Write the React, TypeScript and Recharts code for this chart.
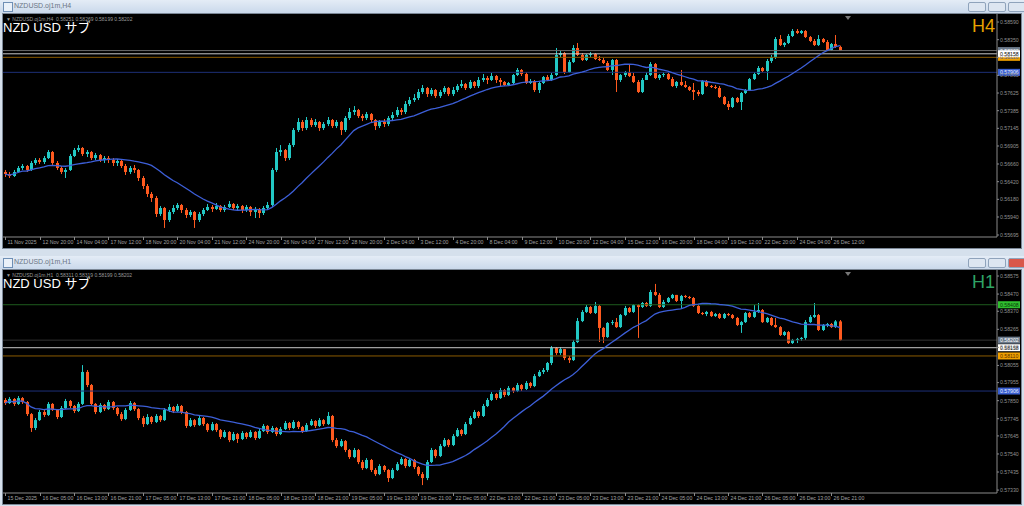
import React from 'react';
import { ComposedChart, Bar, Line, XAxis, YAxis, ReferenceLine } from 'recharts';

// H4 panel, prices in 1e-5 (open of each bar = previous close)
const H4_OPEN0 = 56552;
const H4_CLOSE = [
    56524, 56497, 56552, 56606, 56633, 56579, 56674, 56714, 56687, 56741,
    56823, 56674, 56606, 56552, 56579, 56769, 56850, 56878, 56796, 56823,
    56741, 56782, 56714, 56741, 56714, 56674, 56701, 56633, 56552, 56606,
    56579, 56470, 56361, 56253, 56198, 55981, 56062, 55899, 56008, 56062,
    56103, 56035, 55967, 56008, 55899, 55981, 56035, 56076, 56049, 56089,
    56035, 56076, 56117, 56062, 56089, 56035, 56076, 56008, 56049, 55994,
    56062, 56103, 56579, 56823, 56850, 56741, 56918, 57122, 57231, 57149,
    57258, 57190, 57231, 57149, 57204, 57258, 57176, 57231, 57122, 57285,
    57367, 57394, 57312, 57285, 57339, 57258, 57176, 57231, 57204, 57285,
    57326, 57394, 57367, 57476, 57530, 57557, 57639, 57693, 57611, 57666,
    57584, 57639, 57693, 57611, 57666, 57720, 57747, 57693, 57775, 57720,
    57802, 57829, 57802, 57856, 57802, 57775, 57734, 57761, 57870, 57938,
    57883, 57761, 57788, 57666, 57761, 57842, 57802, 57870, 58142, 58169,
    57910, 58046, 58237, 58142, 58074, 58142, 58155, 58087, 58074, 58033,
    57938, 58074, 57802, 57870, 57910, 57856, 57775, 57639, 57802, 57870,
    58019, 57829, 57870, 57883, 57815, 57720, 57775, 57734, 57707, 57666,
    57639, 57611, 57788, 57720, 57707, 57693, 57571, 57476, 57435, 57557,
    57503, 57625, 57666, 57815, 57883, 57965, 57924, 58060, 58114, 58359,
    58277, 58305, 58400, 58468, 58441, 58468, 58386, 58332, 58277, 58359,
    58318, 58210, 58291, 58251, 58202,
];
const H4_HIGH = [
    56579, 56552, 56579, 56633, 56660, 56647, 56701, 56741, 56741, 56769,
    56850, 56837, 56701, 56633, 56606, 56796, 56878, 56918, 56891, 56850,
    56837, 56810, 56796, 56769, 56769, 56741, 56728, 56714, 56660, 56633,
    56647, 56592, 56497, 56388, 56280, 56225, 56089, 56076, 56035, 56103,
    56130, 56117, 56062, 56035, 56021, 56008, 56062, 56117, 56103, 56130,
    56103, 56103, 56157, 56130, 56117, 56103, 56103, 56089, 56076, 56062,
    56089, 56144, 56606, 56878, 56918, 56864, 56945, 57149, 57285, 57258,
    57299, 57285, 57272, 57244, 57231, 57299, 57272, 57258, 57244, 57312,
    57421, 57448, 57408, 57339, 57367, 57353, 57272, 57258, 57272, 57312,
    57367, 57435, 57421, 57516, 57571, 57611, 57679, 57734, 57707, 57693,
    57679, 57666, 57720, 57707, 57707, 57747, 57802, 57761, 57802, 57788,
    57842, 57883, 57856, 57897, 57870, 57829, 57788, 57775, 57883, 57965,
    57951, 57910, 57815, 57802, 57775, 57856, 57870, 57897, 58237, 58196,
    58182, 58074, 58277, 58305, 58169, 58155, 58182, 58169, 58128, 58101,
    58060, 58087, 58087, 57883, 57924, 58006, 57897, 57802, 57829, 57910,
    58046, 58033, 57883, 57910, 57897, 57842, 57788, 57938, 57788, 57720,
    57761, 57666, 57802, 57802, 57734, 57734, 57720, 57584, 57516, 57571,
    57571, 57639, 57679, 57829, 57910, 57992, 57978, 58087, 58142, 58386,
    58413, 58318, 58427, 58495, 58495, 58481, 58481, 58400, 58359, 58413,
    58373, 58345, 58305, 58413, 58269,
];
const H4_LOW = [
    56484, 56470, 56484, 56538, 56579, 56552, 56565, 56647, 56660, 56660,
    56728, 56647, 56579, 56524, 56470, 56565, 56755, 56823, 56769, 56755,
    56714, 56714, 56687, 56674, 56674, 56633, 56633, 56606, 56511, 56524,
    56538, 56429, 56320, 56212, 56144, 55940, 55953, 55791, 55872, 55981,
    56035, 55994, 55926, 55940, 55791, 55872, 55953, 56021, 56008, 56035,
    56008, 56008, 56062, 56035, 56035, 55994, 56008, 55953, 55926, 55926,
    55967, 56035, 56076, 56552, 56769, 56701, 56714, 56891, 57095, 57109,
    57122, 57163, 57163, 57109, 57122, 57176, 57149, 57149, 57054, 57095,
    57258, 57326, 57285, 57244, 57258, 57231, 57122, 57149, 57163, 57176,
    57258, 57299, 57326, 57339, 57448, 57503, 57530, 57611, 57571, 57584,
    57557, 57557, 57611, 57584, 57584, 57639, 57693, 57666, 57679, 57693,
    57693, 57775, 57747, 57788, 57761, 57720, 57720, 57720, 57747, 57856,
    57856, 57747, 57747, 57639, 57625, 57747, 57788, 57788, 57856, 58114,
    57883, 57897, 58033, 58128, 58060, 58060, 58114, 58074, 58060, 58019,
    57924, 57870, 57639, 57775, 57842, 57842, 57761, 57625, 57625, 57802,
    57856, 57815, 57802, 57842, 57802, 57707, 57693, 57720, 57693, 57652,
    57530, 57584, 57598, 57707, 57693, 57679, 57557, 57462, 57394, 57421,
    57489, 57394, 57611, 57652, 57802, 57870, 57910, 57802, 58033, 58087,
    58264, 58250, 58291, 58386, 58427, 58427, 58373, 58318, 58264, 58264,
    58305, 58196, 58196, 58237, 58199,
];
const H4_LABELS = [
    '11 Nov 2025', '12 Nov 20:00', '14 Nov 04:00', '17 Nov 12:00', '18 Nov 20:00',
    '20 Nov 04:00', '21 Nov 12:00', '24 Nov 20:00', '26 Nov 04:00', '27 Nov 12:00',
    '28 Nov 20:00', '2 Dec 04:00', '3 Dec 12:00', '4 Dec 20:00', '8 Dec 04:00',
    '9 Dec 12:00', '10 Dec 20:00', '12 Dec 04:00', '15 Dec 12:00', '16 Dec 20:00',
    '18 Dec 04:00', '19 Dec 12:00', '22 Dec 20:00', '24 Dec 04:00', '26 Dec 12:00',
];
const H4_TICKS = [0.5859, 0.5835, 0.5811, 0.57865, 0.57625, 0.57385, 0.57145, 0.56905, 0.5666, 0.5642, 0.5618, 0.5594, 0.55695];

// H1 panel
const H1_OPEN0 = 57854;
const H1_CLOSE = [
    57836, 57860, 57831, 57865, 57842, 57772, 57691, 57737, 57784, 57767,
    57831, 57796, 57755, 57807, 57848, 57819, 57790, 57831, 58017, 57941,
    57831, 57784, 57825, 57801, 57842, 57807, 57772, 57743, 57796, 57836,
    57801, 57749, 57714, 57755, 57726, 57761, 57737, 57796, 57813, 57790,
    57819, 57784, 57703, 57737, 57708, 57749, 57714, 57679, 57714, 57679,
    57639, 57668, 57621, 57656, 57627, 57662, 57639, 57668, 57633, 57673,
    57703, 57668, 57691, 57656, 57685, 57720, 57691, 57726, 57697, 57673,
    57708, 57732, 57703, 57737, 57714, 57761, 57621, 57586, 57615, 57563,
    57522, 57563, 57493, 57458, 57505, 57447, 57423, 57470, 57447, 57400,
    57447, 57481, 57511, 57470, 57505, 57464, 57423, 57400, 57493, 57563,
    57528, 57586, 57621, 57592, 57644, 57679, 57656, 57714, 57749, 57784,
    57761, 57819, 57854, 57889, 57865, 57912, 57883, 57924, 57906, 57941,
    57918, 57953, 57935, 57993, 58017, 58028, 58069, 58156, 58127, 58150,
    58098, 58086, 58191, 58313, 58366, 58395, 58360, 58401, 58273, 58220,
    58302, 58307, 58278, 58348, 58389, 58366, 58406, 58395, 58418, 58401,
    58482, 58465, 58395, 58424, 58447, 58465, 58430, 58459, 58453, 58447,
    58401, 58360, 58354, 58366, 58342, 58354, 58331, 58354, 58348, 58331,
    58290, 58307, 58360, 58337, 58366, 58377, 58307, 58331, 58290, 58278,
    58232, 58249, 58185, 58203, 58209, 58215, 58307, 58337, 58348, 58261,
    58290, 58296, 58278, 58311, 58202,
];
const H1_HIGH = [
    57865, 57871, 57865, 57877, 57871, 57848, 57778, 57749, 57796, 57796,
    57842, 57836, 57801, 57819, 57860, 57854, 57825, 57842, 58057, 58028,
    57947, 57836, 57836, 57831, 57854, 57848, 57813, 57784, 57807, 57848,
    57842, 57807, 57761, 57772, 57761, 57772, 57767, 57807, 57831, 57819,
    57831, 57825, 57790, 57749, 57743, 57761, 57755, 57720, 57726, 57720,
    57685, 57679, 57673, 57668, 57662, 57673, 57668, 57679, 57673, 57685,
    57714, 57708, 57703, 57697, 57697, 57732, 57726, 57737, 57732, 57703,
    57720, 57743, 57737, 57749, 57743, 57784, 57767, 57633, 57627, 57621,
    57569, 57575, 57569, 57505, 57516, 57511, 57458, 57481, 57476, 57452,
    57458, 57493, 57522, 57516, 57516, 57511, 57470, 57435, 57505, 57575,
    57569, 57598, 57633, 57627, 57656, 57691, 57685, 57726, 57761, 57796,
    57790, 57831, 57865, 57900, 57895, 57924, 57918, 57935, 57929, 57953,
    57947, 57964, 57959, 58005, 58028, 58040, 58075, 58168, 58162, 58162,
    58150, 58110, 58203, 58331, 58377, 58406, 58401, 58424, 58406, 58278,
    58307, 58319, 58331, 58354, 58401, 58395, 58412, 58412, 58424, 58424,
    58494, 58529, 58476, 58436, 58453, 58471, 58465, 58465, 58465, 58459,
    58453, 58406, 58366, 58372, 58372, 58360, 58360, 58360, 58360, 58354,
    58337, 58313, 58366, 58366, 58406, 58418, 58383, 58337, 58337, 58331,
    58284, 58255, 58255, 58209, 58215, 58220, 58319, 58348, 58418, 58354,
    58296, 58302, 58302, 58319, 58319,
];
const H1_LOW = [
    57825, 57831, 57819, 57825, 57831, 57761, 57668, 57679, 57732, 57755,
    57761, 57790, 57743, 57749, 57801, 57807, 57778, 57784, 57825, 57929,
    57819, 57772, 57778, 57790, 57796, 57796, 57761, 57732, 57737, 57790,
    57790, 57737, 57697, 57708, 57714, 57720, 57726, 57732, 57784, 57778,
    57784, 57772, 57691, 57697, 57697, 57703, 57703, 57668, 57673, 57668,
    57627, 57633, 57609, 57615, 57604, 57621, 57627, 57633, 57621, 57627,
    57668, 57656, 57662, 57644, 57650, 57679, 57679, 57685, 57685, 57662,
    57668, 57703, 57691, 57697, 57703, 57708, 57609, 57575, 57580, 57551,
    57511, 57516, 57481, 57447, 57452, 57435, 57412, 57417, 57435, 57377,
    57394, 57441, 57476, 57458, 57464, 57452, 57412, 57359, 57388, 57487,
    57516, 57522, 57580, 57580, 57586, 57639, 57644, 57650, 57708, 57743,
    57749, 57755, 57813, 57848, 57854, 57860, 57871, 57877, 57895, 57900,
    57906, 57912, 57924, 57929, 57988, 58005, 58017, 58057, 58116, 58116,
    58086, 58069, 58081, 58185, 58307, 58360, 58354, 58354, 58191, 58185,
    58215, 58290, 58273, 58273, 58342, 58360, 58360, 58215, 58389, 58395,
    58395, 58459, 58389, 58389, 58418, 58441, 58424, 58389, 58447, 58441,
    58395, 58354, 58348, 58342, 58337, 58337, 58325, 58325, 58342, 58325,
    58284, 58244, 58302, 58331, 58331, 58360, 58302, 58302, 58284, 58273,
    58226, 58226, 58180, 58180, 58185, 58197, 58203, 58302, 58331, 58255,
    58255, 58278, 58273, 58273, 58199,
];
const H1_LABELS = [
    '15 Dec 2025', '16 Dec 05:00', '16 Dec 13:00', '16 Dec 21:00', '17 Dec 05:00',
    '17 Dec 13:00', '17 Dec 21:00', '18 Dec 05:00', '18 Dec 13:00', '18 Dec 21:00',
    '19 Dec 05:00', '19 Dec 13:00', '19 Dec 21:00', '22 Dec 05:00', '22 Dec 13:00',
    '22 Dec 21:00', '23 Dec 05:00', '23 Dec 13:00', '23 Dec 21:00', '24 Dec 05:00',
    '24 Dec 13:00', '24 Dec 21:00', '26 Dec 05:00', '26 Dec 13:00', '26 Dec 21:00',
];
const H1_TICKS = [0.58575, 0.5847, 0.5837, 0.58265, 0.5816, 0.58055, 0.57955, 0.5785, 0.57745, 0.57645, 0.5754, 0.57435, 0.5733];

const BULL = '#22c8c4';
const BEAR = '#ff5a1f';
const MA_COLOR = '#3d5fd8';
const AXIS = '#8a8a8a';
const FONT = '"Liberation Sans", Arial, sans-serif';
const SLOTS = 231; // 195 bars plus the empty right shift
const MA_PERIOD = 20;

type Row = { i: number; o?: number; h?: number; l?: number; c?: number; ma?: number };

function buildRows(open0: number, closes: number[], highs: number[], lows: number[]): Row[] {
    const rows: Row[] = [];
    for (let i = 0; i < SLOTS; i++) {
        if (i < closes.length) {
            const o = i === 0 ? open0 : closes[i - 1];
            const win = closes.slice(Math.max(0, i - MA_PERIOD + 1), i + 1);
            const ma = win.reduce((s, v) => s + v, 0) / win.length;
            rows.push({ i, o: o / 1e5, h: highs[i] / 1e5, l: lows[i] / 1e5, c: closes[i] / 1e5, ma: ma / 1e5 });
        } else {
            rows.push({ i });
        }
    }
    return rows;
}

const h4Rows = buildRows(H4_OPEN0, H4_CLOSE, H4_HIGH, H4_LOW);
const h1Rows = buildRows(H1_OPEN0, H1_CLOSE, H1_HIGH, H1_LOW);

const Candle = (props: any) => {
    const { x, y, width, height, payload } = props;
    if (!payload || payload.c == null) return null;
    const top = Math.min(y, y + height);
    const bot = Math.max(y, y + height);
    const { o, h, l, c } = payload;
    const span = h - l || 1e-9;
    const py = (v: number) => top + ((h - v) / span) * (bot - top);
    const col = c >= o ? BULL : BEAR;
    const cx = Math.round(x + width / 2) + 0.5;
    const bTop = Math.min(py(o), py(c));
    const bBot = Math.max(py(o), py(c));
    return (
        <g>
            <line x1={cx} x2={cx} y1={top} y2={bot} stroke={col} strokeWidth={1} />
            <rect x={cx - 1.5} y={bTop} width={3} height={Math.max(bBot - bTop, 1)} fill={col} />
        </g>
    );
};

const XTick = (props: any) => {
    const { x, y, payload, labels } = props;
    const text = labels[Math.round(payload.value / 8)];
    const tx = Math.round(x) + 0.5;
    return (
        <g>
            <line x1={tx} x2={tx} y1={y} y2={y + 3} stroke={AXIS} />
            <text x={tx + 2} y={y + 6.5} fontSize={5.2} fill="#a0a0a0" fontFamily={FONT}>{text}</text>
        </g>
    );
};

const PriceTag = (props: any) => {
    const { viewBox, text, bg, fg } = props;
    if (!viewBox) return null;
    const x = viewBox.x + viewBox.width + 1;
    const y = viewBox.y;
    return (
        <g>
            <rect x={x} y={y - 3.5} width={22} height={7} fill={bg} />
            <text x={x + 2} y={y + 2} fontSize={5.2} fill={fg} fontFamily={FONT}>{text}</text>
        </g>
    );
};

interface Level { v: number; line: string; tag: string; fg: string }

interface PanelProps {
    rows: Row[];
    labels: string[];
    ticks: number[];
    domain: [number, number];
    levels: Level[];
}

const Panel: React.FC<PanelProps> = ({ rows, labels, ticks, domain, levels }) => (
    <ComposedChart
        width={1019}
        height={234}
        data={rows}
        margin={{ top: 0, right: 0, bottom: 0, left: 1 }}
        barCategoryGap={0}
        barGap={0}
        style={{ fontFamily: FONT }}
    >
        <XAxis
            dataKey="i"
            type="category"
            ticks={labels.map((_, k) => k * 8)}
            interval={0}
            tick={<XTick labels={labels} />}
            tickLine={false}
            tickSize={0}
            tickMargin={0}
            axisLine={{ stroke: AXIS }}
            height={11}
        />
        <YAxis
            orientation="right"
            domain={domain}
            allowDataOverflow
            ticks={ticks}
            interval={0}
            tickFormatter={(v: number) => v.toFixed(5)}
            tick={{ fill: '#909090', fontSize: 5.2 }}
            tickLine={{ stroke: AXIS }}
            tickSize={2}
            tickMargin={1}
            axisLine={{ stroke: AXIS }}
            width={24}
        />
        {levels.map((lv) => (
            <ReferenceLine
                key={lv.v + lv.line}
                y={lv.v}
                stroke={lv.line}
                strokeWidth={1}
                ifOverflow="hidden"
                label={<PriceTag text={lv.v.toFixed(5)} bg={lv.tag} fg={lv.fg} />}
            />
        ))}
        <Bar
            dataKey={(d: Row) => (d.c == null ? undefined : [d.l, d.h])}
            shape={(p: any) => <Candle {...p} />}
            isAnimationActive={false}
        />
        <Line
            dataKey="ma"
            stroke={MA_COLOR}
            strokeWidth={1.3}
            dot={false}
            isAnimationActive={false}
        />
    </ComposedChart>
);

const WinButtons: React.FC<{ close?: boolean }> = ({ close }) => (
    <div style={{ position: 'absolute', top: 2, left: 968, display: 'flex', gap: 2 }}>
        {[0, 1, 2].map((k) => (
            <div
                key={k}
                style={{
                    width: 16,
                    height: 8,
                    borderRadius: 2,
                    border: '1px solid #8fa3bb',
                    background: close && k === 2 ? '#d9574a' : '#dde6f1',
                }}
            />
        ))}
    </div>
);

const TitleBar: React.FC<{ top: number; text: string; close?: boolean }> = ({ top, text, close }) => (
    <div
        style={{
            position: 'absolute',
            top,
            left: 0,
            width: 1024,
            height: 13,
            background: 'linear-gradient(#e4ecf6, #cad9eb)',
        }}
    >
        <div style={{ position: 'absolute', left: 3, top: 2, width: 8, height: 8, border: '1px solid #6f8fb5', background: '#eaf1f9' }} />
        <div style={{ position: 'absolute', left: 14, top: 2, fontSize: 7, color: '#6b7685', fontFamily: FONT }}>{text}</div>
        <WinButtons close={close} />
    </div>
);

const Overlay: React.FC<{ top: number; info: string; tf: string; tfColor: string }> = ({ top, info, tf, tfColor }) => (
    <>
        <div style={{ position: 'absolute', left: 6, top: top + 3, fontSize: 5, lineHeight: '5px', color: '#9a9a9a', fontFamily: FONT, whiteSpace: 'pre' }}>
            {info}
        </div>
        <div style={{ position: 'absolute', left: 3, top: top + 7, fontSize: 13, color: '#ffffff', fontFamily: '"Liberation Sans", "Noto Sans CJK JP", sans-serif', lineHeight: '13px', whiteSpace: 'pre' }}>
            NZD USD サブ
        </div>
        <div style={{ position: 'absolute', left: 972, top: top + 2, fontSize: 18, color: tfColor, fontFamily: FONT, lineHeight: '20px' }}>
            {tf}
        </div>
        <div style={{ position: 'absolute', left: 845, top: top + 2, width: 0, height: 0, borderLeft: '3px solid transparent', borderRight: '3px solid transparent', borderTop: '4px solid #777' }} />
    </>
);

const App: React.FC = () => (
    <div style={{ position: 'fixed', left: 0, top: 0, width: 1024, height: 506, background: '#d5e0ec', overflow: 'hidden' }}>
        <TitleBar top={0} text="NZDUSD.oj1m,H4" />
        <div style={{ position: 'absolute', left: 2, top: 13, width: 1020, height: 236, background: '#000', border: '1px solid #7b8796', boxSizing: 'border-box' }} />
        <div style={{ position: 'absolute', left: 2, top: 14 }}>
            <Panel
                rows={h4Rows}
                labels={H4_LABELS}
                ticks={H4_TICKS}
                domain={[0.55668, 0.58699]}
                levels={[
                    { v: 0.57906, line: '#1d2f78', tag: '#3a5fd0', fg: '#e8eeff' },
                    { v: 0.58202, line: '#6a6a6a', tag: '#6c7a8a', fg: '#fff' },
                    { v: 0.5811, line: '#8a5a00', tag: '#f0a000', fg: '#5a3000' },
                    { v: 0.58158, line: '#c8c8c8', tag: '#ffffff', fg: '#000' },
                ]}
            />
        </div>
        <Overlay top={14} info="▼ NZDUSD.oj1m,H4  0.58251 0.58269 0.58199 0.58202" tf="H4" tfColor="#e8a200" />

        <TitleBar top={256} text="NZDUSD.oj1m,H1" close />
        <div style={{ position: 'absolute', left: 2, top: 269, width: 1020, height: 236, background: '#000', border: '1px solid #7b8796', boxSizing: 'border-box' }} />
        <div style={{ position: 'absolute', left: 2, top: 270 }}>
            <Panel
                rows={h1Rows}
                labels={H1_LABELS}
                ticks={H1_TICKS}
                domain={[0.57313, 0.5861]}
                levels={[
                    { v: 0.57906, line: '#1d2f78', tag: '#3a5fd0', fg: '#e8eeff' },
                    { v: 0.58408, line: '#1e5c1e', tag: '#2fbf2f', fg: '#0a3a0a' },
                    { v: 0.58202, line: '#333333', tag: '#6c7a8a', fg: '#fff' },
                    { v: 0.5811, line: '#8a5a00', tag: '#f0a000', fg: '#5a3000' },
                    { v: 0.58158, line: '#c8c8c8', tag: '#ffffff', fg: '#000' },
                ]}
            />
        </div>
        <Overlay top={270} info="▼ NZDUSD.oj1m,H1  0.58311 0.58319 0.58199 0.58202" tf="H1" tfColor="#2fa466" />
    </div>
);

export default App;
